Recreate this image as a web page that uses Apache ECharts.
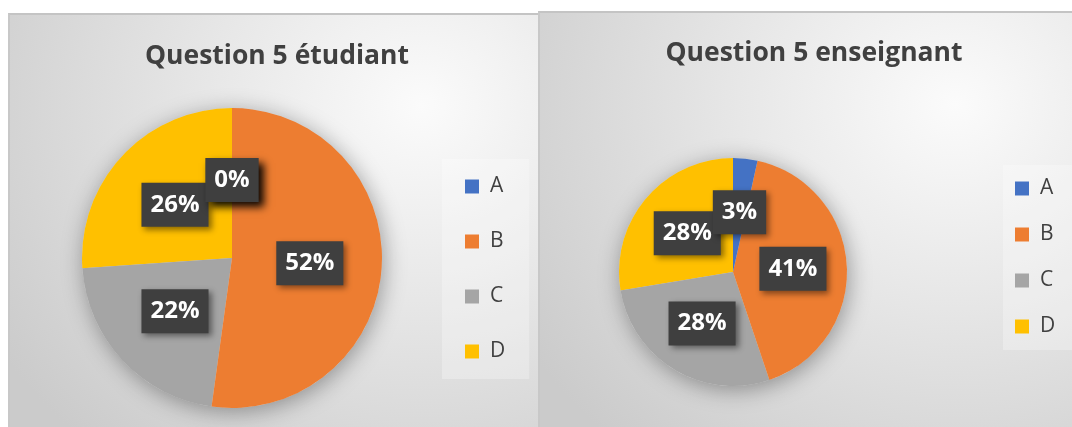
<!DOCTYPE html>
<html>
<head>
<meta charset="utf-8">
<script src="https://cdn.jsdelivr.net/npm/echarts@6/dist/echarts.min.js"></script>
<style>
  html, body { margin: 0; padding: 0; background: #fff; }
  body { width: 1072px; height: 427px; position: relative; overflow: hidden; }
  .panel {
    position: absolute;
    border-top: 2px solid #c4c4c4;
    border-left: 2px solid #c8c8c8;
    box-sizing: border-box;
    background: radial-gradient(ellipse 95% 110% at 78% 22%, #fbfbfb 0%, #e6e6e6 45%, #cbcbcb 100%);
  }
  #left { left: 8px; top: 13px; width: 530px; height: 414px; }
  #right { left: 538px; top: 11px; width: 534px; height: 416px; }
</style>
</head>
<body>
<div id="left" class="panel"></div>
<div id="right" class="panel"></div>
<script>
// réponses question 5
const categories = ['A', 'B', 'C', 'D']
const etudiantCounts = [0, 12, 5, 6]
const enseignantCounts = [1, 12, 8, 8]
const colors = ['#4472C4', '#ED7D31', '#A5A5A5', '#FFC000']

const font = '"Open Sans", "Noto Sans", sans-serif'

function labelStyle() {
  return {
    show: true, position: 'inside', formatter: '{d}%',
    color: '#fff', fontFamily: font, fontWeight: 'bold', fontSize: 24, lineHeight: 24,
    backgroundColor: '#3f3f3f', padding: [10, 9],
    shadowColor: 'rgba(0,0,0,0.45)', shadowBlur: 6, shadowOffsetX: 3, shadowOffsetY: 3
  }
}

function makeOption(title, counts, cfg) {
  // ordre inversé + sens anti-horaire : même géométrie, mais l'étiquette A est dessinée en dernier
  const items = categories.map((c, i) => {
    const d = { name: c, value: counts[i], itemStyle: { color: colors[i] } }
    if (cfg.labelTweak && cfg.labelTweak[i]) d.label = cfg.labelTweak[i]
    return d
  }).reverse()
  return {
    animation: false,
    title: {
      text: title, left: cfg.titleX, top: cfg.titleY, textAlign: 'center',
      textStyle: { fontFamily: font, fontWeight: 'bold', fontSize: 26.5, color: '#404040' }
    },
    legend: {
      data: categories, orient: 'vertical', left: cfg.legendX, top: cfg.legendY,
      icon: 'rect', itemWidth: 14, itemHeight: 14, itemGap: cfg.legendGap,
      backgroundColor: 'rgba(255,255,255,0.28)', padding: cfg.legendPad,
      textStyle: { fontFamily: font, fontSize: 21, lineHeight: 20, color: '#404040', padding: [0, 0, 0, 6] }
    },
    series: [
      {
        // ombre sous le camembert
        type: 'pie', silent: true, center: cfg.center, radius: cfg.radius, z: 1,
        label: { show: false }, labelLine: { show: false },
        itemStyle: { color: '#d8d8d8', shadowBlur: 22, shadowColor: 'rgba(0,0,0,0.35)', shadowOffsetX: 2, shadowOffsetY: 4 },
        data: [{ value: 1, name: '_' }]
      },
      {
        type: 'pie', center: cfg.center, radius: cfg.radius, z: 2,
        startAngle: 90, clockwise: false, percentPrecision: 0,
        avoidLabelOverlap: false, labelLine: { show: false },
        labelLayout: { hideOverlap: false },
        label: labelStyle(),
        itemStyle: { borderWidth: 0 },
        data: items
      }
    ]
  }
}

const leftChart = echarts.init(document.getElementById('left'), null, { renderer: 'canvas' })
leftChart.setOption(makeOption('Question 5 étudiant', etudiantCounts, {
  titleX: 262, titleY: 23, center: [222, 243], radius: [0, 150],
  legendX: 432, legendY: 144, legendGap: 34, legendPad: [17, 24, 17, 23],
  labelTweak: {
    0: { shadowColor: 'rgba(0,0,0,0.95)', shadowBlur: 8, shadowOffsetX: 5, shadowOffsetY: 5 }
  }
}))

const rightChart = echarts.init(document.getElementById('right'), null, { renderer: 'canvas' })
rightChart.setOption(makeOption('Question 5 enseignant', enseignantCounts, {
  titleX: 269, titleY: 22, center: [193, 259], radius: [0, 114],
  legendX: 463, legendY: 152, legendGap: 25, legendPad: [13, 30, 13, 12]
}))
</script>
</body>
</html>
